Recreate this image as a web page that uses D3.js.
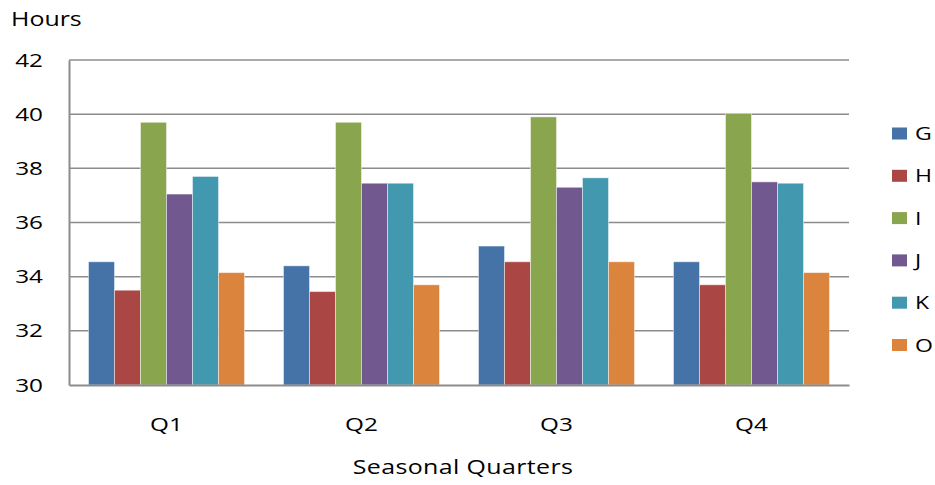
<!DOCTYPE html>
<html>
<head>
<meta charset="utf-8">
<script src="https://cdn.jsdelivr.net/npm/d3@7"></script>
<style>
  html, body { margin: 0; padding: 0; background: #fff; }
  svg { display: block; font-family: "Open Sans", "DejaVu Sans", sans-serif; }
</style>
</head>
<body>
<svg id="chart" width="935" height="485"></svg>
<script>
// Quarters on the x axis
const quarters = ["Q1", "Q2", "Q3", "Q4"];
// Series names (legend order)
const seriesNames = ["G", "H", "I", "J", "K", "O"];
// Hours per series, one value per quarter
const G = [34.55, 34.4, 35.13, 34.55];
const H = [33.5, 33.45, 34.55, 33.7];
const I = [39.7, 39.7, 39.9, 40.03];
const J = [37.05, 37.45, 37.3, 37.5];
const K = [37.7, 37.45, 37.65, 37.45];
const O = [34.15, 33.7, 34.55, 34.15];
// Y axis ticks
const yTicks = [30, 32, 34, 36, 38, 40, 42];

const seriesValues = [G, H, I, J, K, O];
const colors = ["#4572A7", "#AA4643", "#89A54E", "#71588F", "#4198AF", "#DB843D"];

// Text is drawn slightly wide
const STRETCH = 1.28;

const svg = d3.select("#chart");
const margin = { left: 69, right: 86, top: 60, bottom: 100 };
const width = 935, height = 485;
const plotW = width - margin.left - margin.right;
const plotH = height - margin.top - margin.bottom;

const x0 = d3.scaleBand().domain(quarters).range([0, plotW]).paddingInner(0).paddingOuter(0);
const x1 = d3.scaleBand().domain(seriesNames).range([0, x0.bandwidth()]).paddingInner(0).paddingOuter(0.75);
const y = d3.scaleLinear().domain([30, 42]).range([plotH, 0]);
const color = d3.scaleOrdinal().domain(seriesNames).range(colors);

function wideText(sel, x, yPos, str, size, anchor) {
  return sel.append("text")
    .attr("transform", `translate(${x},${yPos}) scale(${STRETCH},1)`)
    .attr("text-anchor", anchor || "start")
    .attr("font-size", size)
    .attr("fill", "#000")
    .text(str);
}

const g = svg.append("g").attr("transform", `translate(${margin.left},${margin.top})`);

// Horizontal gridlines
g.append("g")
  .selectAll("line")
  .data(yTicks.filter(t => t > 30))
  .join("line")
  .attr("x1", 0).attr("x2", plotW)
  .attr("y1", d => y(d)).attr("y2", d => y(d))
  .attr("stroke", "#8c8c8c").attr("stroke-width", 1.5);

// Bars
const groups = g.append("g")
  .selectAll("g")
  .data(quarters)
  .join("g")
  .attr("transform", d => `translate(${x0(d)},0)`);

groups.selectAll("rect")
  .data((q, qi) => seriesNames.map((s, si) => ({ s, v: seriesValues[si][qi] })))
  .join("rect")
  .attr("x", d => x1(d.s))
  .attr("width", x1.bandwidth())
  .attr("y", d => y(d.v))
  .attr("height", d => y(30) - y(d.v))
  .attr("fill", d => color(d.s))
  .attr("stroke", "rgba(255,255,255,0.45)")
  .attr("stroke-width", 1);

// Y axis line and labels
const yAxis = g.append("g")
  .call(d3.axisLeft(y).tickValues(yTicks).tickSize(0).tickFormat(""));
yAxis.select(".domain").attr("stroke", "#8c8c8c").attr("stroke-width", 2);
yTicks.forEach(t => {
  wideText(g, -26, y(t) + 6.5, String(t), 19, "end");
});

// X axis line and labels
const xAxis = g.append("g")
  .attr("transform", `translate(0,${plotH})`)
  .call(d3.axisBottom(x0).tickSize(0).tickFormat(""));
xAxis.select(".domain").attr("stroke", "#8c8c8c").attr("stroke-width", 2);
quarters.forEach(q => {
  wideText(g, x0(q) + x0.bandwidth() / 2, plotH + 46, q, 19, "middle");
});

// Axis titles
wideText(svg, 11, 26, "Hours", 19.5, "start");
wideText(svg, margin.left + plotW / 2 + 4, 474, "Seasonal Quarters", 19.5, "middle")
  .attr("letter-spacing", "0.3");

// Legend
const legend = svg.append("g").attr("transform", "translate(892,127.5)");
seriesNames.forEach((s, i) => {
  const row = legend.append("g").attr("transform", `translate(0,${i * 42.3})`);
  row.append("rect")
    .attr("width", 15).attr("height", 12)
    .attr("fill", color(s));
  wideText(row, 23, 12.5, s, 18, "start");
});
</script>
</body>
</html>
